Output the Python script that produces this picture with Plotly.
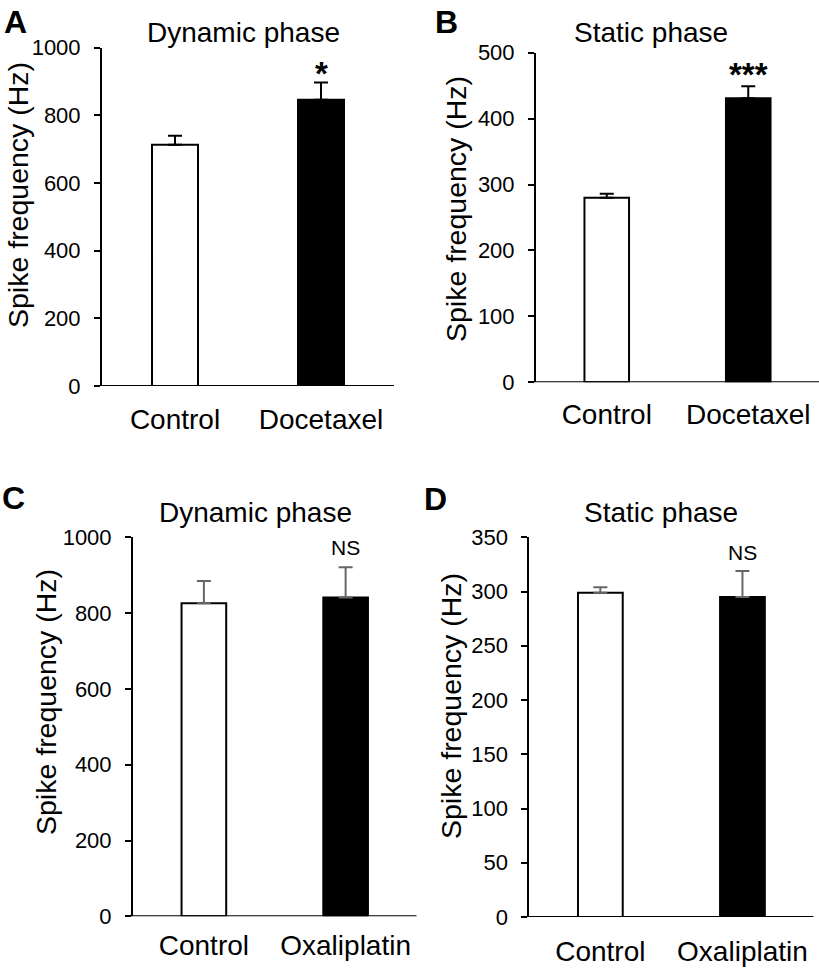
import plotly.graph_objects as go

# ---- data ----
cats_doc = ["Control", "Docetaxel"]
cats_oxa = ["Control", "Oxaliplatin"]
dyn_doc_mean = [713, 846]
dyn_doc_err = [27, 51]
sta_doc_mean = [280, 431]
sta_doc_err = [6, 18]
dyn_oxa_mean = [826, 841]
dyn_oxa_err = [59, 80]
sta_oxa_mean = [299, 295]
sta_oxa_err = [5, 24]
bar_colors = ["white", "black"]

panel_titles = ["Dynamic phase", "Static phase", "Dynamic phase", "Static phase"]
panel_letters = ["A", "B", "C", "D"]
sig_labels = ["*", "***", "NS", "NS"]
yranges = [[0, 1000], [0, 500], [0, 1000], [0, 350]]
ydticks = [200, 100, 200, 50]

FONT = "Liberation Sans, Arial, sans-serif"
W, H = 819, 971

panels = [
    dict(cats=cats_doc, mean=dyn_doc_mean, err=dyn_doc_err, errc="black",
         px=(102, 394), py=(47.7, 386), standoff=14),
    dict(cats=cats_doc, mean=sta_doc_mean, err=sta_doc_err, errc="black",
         px=(536, 819), py=(52.7, 382.3), standoff=13),
    dict(cats=cats_oxa, mean=dyn_oxa_mean, err=dyn_oxa_err, errc="#666666",
         px=(133, 416.5), py=(537.3, 916.3), standoff=10),
    dict(cats=cats_oxa, mean=sta_oxa_mean, err=sta_oxa_err, errc="#666666",
         px=(529.3, 813.5), py=(537.3, 917), standoff=15),
]

# positions of text elements (pixels)
title_pos = [(243, 33), (651, 33), (255, 512), (661, 512)]
letter_pos = [(15, 22), (447, 22), (13, 498), (435, 499)]
ytitle_pos = [(18, 195), (456, 209), (46, 702), (451, 706)]
sig_y = [67, 68, 547, 552]

fig = go.Figure()
layout = dict(width=W, height=H, margin=dict(l=0, r=0, t=0, b=0, autoexpand=False),
              plot_bgcolor="white", paper_bgcolor="white", showlegend=False,
              font=dict(family=FONT, color="black"))
annotations = []
shapes = []

for i, p in enumerate(panels):
    n = "" if i == 0 else str(i + 1)
    xa, ya = "x" + n, "y" + n
    fig.add_trace(go.Bar(
        x=p["cats"], y=p["mean"], xaxis=xa, yaxis=ya, width=0.315,
        marker=dict(color=bar_colors, line=dict(color="black", width=2)),
        error_y=dict(type="data", array=p["err"], arrayminus=[0, 0], symmetric=False,
                     color=p["errc"], thickness=2, width=7),
    ))
    dx = [p["px"][0] / W, p["px"][1] / W]
    dy = [1 - p["py"][1] / H, 1 - p["py"][0] / H]
    layout["xaxis" + n] = dict(
        domain=dx, anchor=ya, range=[-0.5, 1.5], showline=False, ticks="",
        showgrid=False, zeroline=False, tickfont=dict(size=28, family=FONT),
        ticklabelstandoff=p["standoff"], automargin=False, fixedrange=True)
    layout["yaxis" + n] = dict(
        domain=dy, anchor=xa, range=yranges[i], dtick=ydticks[i],
        showline=True, linecolor="black", linewidth=2, ticks="outside",
        ticklen=6, tickwidth=2, tickcolor="black", showgrid=False,
        zeroline=False, tickfont=dict(size=22, family=FONT), automargin=False,
        ticklabelstandoff=9, fixedrange=True)
    # baseline (x axis line extends under the y ticks)
    shapes.append(dict(type="line", xref=xa + " domain", yref=ya,
                       x0=-6 / (p["px"][1] - p["px"][0]), x1=1, y0=0, y1=0,
                       line=dict(color="black", width=2), layer="above"))
    # panel title
    annotations.append(dict(text=panel_titles[i], x=title_pos[i][0] / W,
                            y=1 - title_pos[i][1] / H, xref="paper", yref="paper",
                            showarrow=False, font=dict(size=28, family=FONT),
                            xanchor="center", yanchor="middle"))
    # panel letter
    annotations.append(dict(text="<b>" + panel_letters[i] + "</b>", x=letter_pos[i][0] / W,
                            y=1 - letter_pos[i][1] / H, xref="paper", yref="paper",
                            showarrow=False, font=dict(size=32, family=FONT),
                            xanchor="center", yanchor="middle"))
    # y axis title
    annotations.append(dict(text="Spike frequency (Hz)", x=ytitle_pos[i][0] / W,
                            y=1 - ytitle_pos[i][1] / H, xref="paper", yref="paper",
                            showarrow=False, textangle=-90, font=dict(size=28.5, family=FONT),
                            xanchor="center", yanchor="middle"))
    # significance label
    is_star = "*" in sig_labels[i]
    annotations.append(dict(text=("<b>" + sig_labels[i] + "</b>") if is_star else sig_labels[i],
                            x=p["cats"][1], y=1 - sig_y[i] / H,
                            xref=xa, yref="paper", showarrow=False,
                            font=dict(size=33 if is_star else 21, family=FONT),
                            xanchor="center", yanchor="middle",
                            yshift=(-6 if is_star else 0)))

layout["annotations"] = annotations
layout["shapes"] = shapes
fig.update_layout(**layout)
fig.write_html("out.html", config={"displayModeBar": False},
               post_script="document.body.style.margin='0';")
